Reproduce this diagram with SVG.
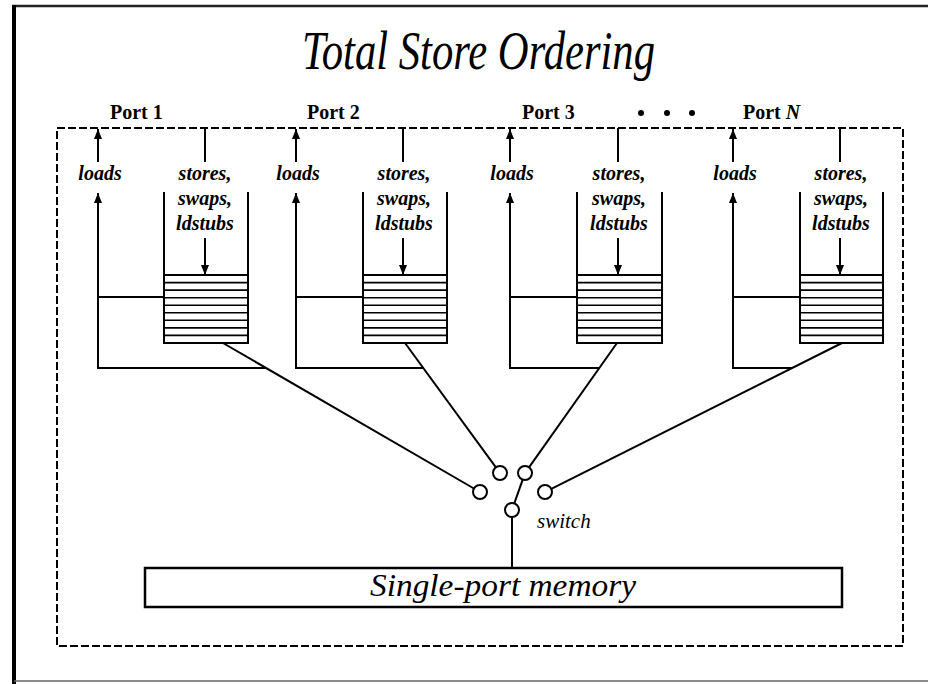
<svg xmlns="http://www.w3.org/2000/svg" width="928" height="684" viewBox="0 0 928 684">
<defs>
<style>
.ln{stroke:#000;stroke-width:2;fill:none}
.q{stroke:#000;stroke-width:2;fill:#fff}
.ql{stroke:#000;stroke-width:1.6}
.lbl{font-family:"Liberation Serif","Times New Roman",serif;font-style:italic;font-weight:bold;font-size:20px;fill:#000}
.port{font-family:"Liberation Serif","Times New Roman",serif;font-weight:bold;font-size:20px;fill:#000}
.circ{stroke:#000;stroke-width:2;fill:#fff}
</style>
<marker id="ah" viewBox="0 0 10 10" refX="10" refY="5" markerWidth="10" markerHeight="10" markerUnits="userSpaceOnUse" orient="auto">
<path d="M0,1 L10,5 L0,9 Z" fill="#000"/>
</marker>
</defs>
<rect width="928" height="684" fill="#fff"/>
<g id="frame">
<line x1="12" y1="6" x2="928" y2="6" stroke="#222" stroke-width="2.5"/>
<line x1="14" y1="5" x2="14" y2="684" stroke="#000" stroke-width="4"/>
<line x1="14" y1="681" x2="928" y2="681" stroke="#666" stroke-width="1.5"/>
<rect x="57" y="128" width="846" height="518" fill="none" stroke="#000" stroke-width="2" stroke-dasharray="8,3"/>
</g>
<g id="title">
<text x="302" y="69" font-family="Liberation Serif, Times New Roman, serif" font-style="italic" font-size="54" textLength="353" lengthAdjust="spacingAndGlyphs">Total Store Ordering</text>
</g>
<g id="port-labels">
<text class="port" x="110" y="119">Port 1</text>
<text class="port" x="307" y="119">Port 2</text>
<text class="port" x="522" y="119">Port 3</text>
<circle cx="641" cy="113" r="3" fill="#000"/>
<circle cx="667" cy="113" r="3" fill="#000"/>
<circle cx="692" cy="113" r="3" fill="#000"/>
<text class="port" x="743" y="119">Port <tspan font-style="italic">N</tspan></text>
</g>
<g id="port1">
<text class="lbl" x="100" y="180" text-anchor="middle">loads</text>
<text class="lbl" x="205" y="180" text-anchor="middle">stores,</text>
<text class="lbl" x="205" y="205" text-anchor="middle">swaps,</text>
<text class="lbl" x="205" y="230" text-anchor="middle">ldstubs</text>
<rect class="q" x="164" y="275" width="84" height="68"/>
<path class="ql" d="M164,282.6H248M164,290.1H248M164,297.7H248M164,305.2H248M164,312.8H248M164,320.3H248M164,327.9H248M164,335.4H248"/>
<path class="ln" d="M164,192V275M248,192V275"/>
</g>
<g id="port2">
<text class="lbl" x="298" y="180" text-anchor="middle">loads</text>
<text class="lbl" x="404" y="180" text-anchor="middle">stores,</text>
<text class="lbl" x="404" y="205" text-anchor="middle">swaps,</text>
<text class="lbl" x="404" y="230" text-anchor="middle">ldstubs</text>
<rect class="q" x="363" y="275" width="84" height="68"/>
<path class="ql" d="M363,282.6H447M363,290.1H447M363,297.7H447M363,305.2H447M363,312.8H447M363,320.3H447M363,327.9H447M363,335.4H447"/>
<path class="ln" d="M363,192V275M447,192V275"/>
</g>
<g id="port3">
<text class="lbl" x="512" y="180" text-anchor="middle">loads</text>
<text class="lbl" x="619" y="180" text-anchor="middle">stores,</text>
<text class="lbl" x="619" y="205" text-anchor="middle">swaps,</text>
<text class="lbl" x="619" y="230" text-anchor="middle">ldstubs</text>
<rect class="q" x="577" y="275" width="85" height="68"/>
<path class="ql" d="M577,282.6H662M577,290.1H662M577,297.7H662M577,305.2H662M577,312.8H662M577,320.3H662M577,327.9H662M577,335.4H662"/>
<path class="ln" d="M577,192V275M662,192V275"/>
</g>
<g id="portN">
<text class="lbl" x="735" y="180" text-anchor="middle">loads</text>
<text class="lbl" x="841" y="180" text-anchor="middle">stores,</text>
<text class="lbl" x="841" y="205" text-anchor="middle">swaps,</text>
<text class="lbl" x="841" y="230" text-anchor="middle">ldstubs</text>
<rect class="q" x="800" y="275" width="83" height="68"/>
<path class="ql" d="M800,282.6H883M800,290.1H883M800,297.7H883M800,305.2H883M800,312.8H883M800,320.3H883M800,327.9H883M800,335.4H883"/>
<path class="ln" d="M800,192V275M883,192V275"/>
</g>
<g id="connectors">
<line class="ln" x1="98" y1="162" x2="98" y2="129" marker-end="url(#ah)"/>
<line class="ln" x1="98" y1="369" x2="98" y2="193" marker-end="url(#ah)"/>
<path class="ln" d="M98,297H164M97,368H266.1M205,128V162"/>
<line class="ln" x1="205" y1="238" x2="205" y2="275" marker-end="url(#ah)"/>
<line class="ln" x1="223" y1="343" x2="473.9" y2="488.5"/>
<line class="ln" x1="296" y1="162" x2="296" y2="129" marker-end="url(#ah)"/>
<line class="ln" x1="296" y1="369" x2="296" y2="193" marker-end="url(#ah)"/>
<path class="ln" d="M296,297H363M295,368H423.3M403,128V162"/>
<line class="ln" x1="403" y1="238" x2="403" y2="275" marker-end="url(#ah)"/>
<line class="ln" x1="405" y1="343" x2="495.9" y2="467.4"/>
<line class="ln" x1="510" y1="162" x2="510" y2="129" marker-end="url(#ah)"/>
<line class="ln" x1="510" y1="369" x2="510" y2="193" marker-end="url(#ah)"/>
<path class="ln" d="M510,297H577M509,368H599.3M618,128V162"/>
<line class="ln" x1="618" y1="238" x2="618" y2="275" marker-end="url(#ah)"/>
<line class="ln" x1="617" y1="343" x2="529" y2="467.3"/>
<line class="ln" x1="733" y1="162" x2="733" y2="129" marker-end="url(#ah)"/>
<line class="ln" x1="733" y1="369" x2="733" y2="193" marker-end="url(#ah)"/>
<path class="ln" d="M733,297H800M732,368H792.2M840,128V162"/>
<line class="ln" x1="840" y1="238" x2="840" y2="275" marker-end="url(#ah)"/>
<line class="ln" x1="842" y1="343" x2="551.3" y2="488.9"/>
<line class="ln" x1="512" y1="517" x2="512" y2="568"/>
</g>
<g id="switch">
<circle class="circ" cx="480" cy="492" r="7"/>
<circle class="circ" cx="500" cy="473" r="7"/>
<circle class="circ" cx="525" cy="473" r="7"/>
<circle class="circ" cx="545" cy="492" r="7"/>
<circle class="circ" cx="512" cy="510" r="7"/>
<line class="ln" x1="514.3" y1="503.4" x2="522.7" y2="479.6"/>
<text x="537" y="528" font-family="Liberation Serif, Times New Roman, serif" font-style="italic" font-size="21">switch</text>
</g>
<g id="memory">
<rect x="145" y="568" width="697" height="39" fill="#fff" stroke="#000" stroke-width="2.5"/>
<text x="370" y="596" font-family="Liberation Serif, Times New Roman, serif" font-style="italic" font-size="32" textLength="266" lengthAdjust="spacingAndGlyphs">Single-port memory</text>
</g>
</svg>
